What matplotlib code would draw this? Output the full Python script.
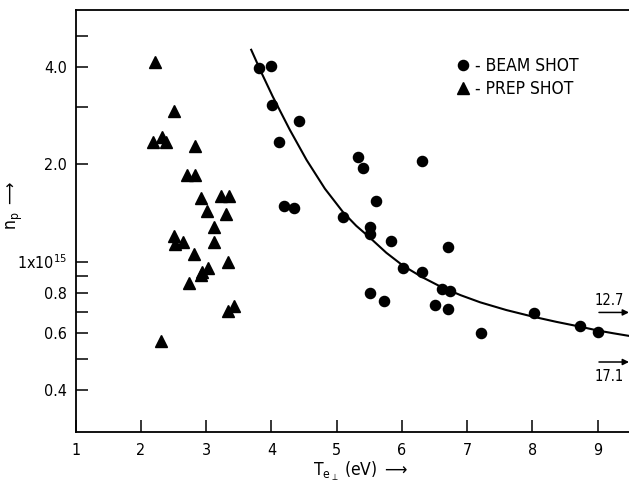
import numpy as np
import matplotlib
matplotlib.use('Agg')
import matplotlib.pyplot as plt
from matplotlib.lines import Line2D
from matplotlib.ticker import NullLocator, FixedLocator, FixedFormatter
from matplotlib import font_manager

# prefer a narrow sans if one is installed, else DejaVu
names = {f.name for f in font_manager.fontManager.ttflist}
narrow = [n for n in ['Liberation Sans Narrow', 'DejaVu Sans Condensed'] if n in names]
plt.rcParams['font.family'] = narrow + ['DejaVu Sans']
plt.rcParams['font.stretch'] = 'condensed'
plt.rcParams['mathtext.fontset'] = 'dejavusans'

# beam shots (circles)
beam_T = [3.81, 4.00, 4.01, 4.42, 4.12, 4.20, 4.35, 5.32, 5.41, 6.30, 5.10, 5.51, 5.51, 5.61,
          5.83, 6.70, 6.02, 6.30, 6.61, 6.74, 5.51, 5.72, 6.51, 6.71, 7.21, 8.02, 8.73, 9.00]
beam_n = [3.98, 4.04, 3.04, 2.73, 2.34, 1.49, 1.46, 2.11, 1.95, 2.05, 1.37, 1.28, 1.22, 1.54,
          1.16, 1.11, 0.954, 0.927, 0.823, 0.813, 0.80, 0.757, 0.735, 0.712, 0.603, 0.692, 0.633, 0.605]

# prep shots (triangles)
prep_T = [2.21, 2.51, 2.19, 2.32, 2.39, 2.83, 2.70, 2.83, 2.92, 3.22, 3.35, 3.01, 3.31, 3.12,
          2.51, 2.52, 2.65, 3.12, 2.81, 3.33, 2.93, 3.03, 2.92, 2.74, 3.33, 3.43, 2.31]
prep_n = [4.13, 2.93, 2.35, 2.42, 2.34, 2.28, 1.85, 1.85, 1.57, 1.59, 1.60, 1.43, 1.40, 1.28,
          1.20, 1.13, 1.15, 1.15, 1.056, 1.00, 0.93, 0.954, 0.91, 0.857, 0.705, 0.731, 0.566]

# fitted curve
fit_T = [3.69, 3.855, 4.02, 4.28, 4.54, 4.82, 5.10, 5.30, 5.50, 5.76, 6.02, 6.31, 6.60,
         6.90, 7.20, 7.60, 8.00, 8.365, 8.73, 9.00, 9.24, 9.48]
fit_n = [4.52, 3.81, 3.24, 2.56, 2.06, 1.68, 1.42, 1.29, 1.19, 1.065, 0.97, 0.895, 0.835,
         0.787, 0.748, 0.708, 0.676, 0.651, 0.629, 0.612, 0.600, 0.589]

# off-scale beam shots (shown as arrows)
off_T = ['12.7', '17.1']
off_n = [0.696, 0.489]

y_ticks = [0.4, 0.5, 0.6, 0.7, 0.8, 0.9, 1.0, 2.0, 3.0, 4.0, 5.0]
y_labels = ['0.4', '', '0.6', '', '0.8', '', r'1x10$^{15}$', '2.0', '', '4.0', '']
x_ticks = [1, 2, 3, 4, 5, 6, 7, 8, 9]

fig = plt.figure(figsize=(6.29, 4.86), dpi=100)
ax = fig.add_axes([0.1203, 0.1111, 0.8797, 0.8683])

ax.plot(fit_T, fit_n, color='black', lw=1.5, zorder=2)
ax.plot(beam_T, beam_n, 'o', color='black', ms=7.3, zorder=3)
ax.plot(prep_T, prep_n, '^', color='black', ms=8, zorder=3)

ax.set_yscale('log')
ax.set_xlim(1, 9.48)
ax.set_ylim(0.297, 6.0)

ax.yaxis.set_major_locator(FixedLocator(y_ticks))
ax.yaxis.set_major_formatter(FixedFormatter(y_labels))
ax.yaxis.set_minor_locator(NullLocator())
ax.set_xticks(x_ticks)
ax.set_xticklabels([str(t) for t in x_ticks])

ax.tick_params(direction='in', length=8.5, width=1.1, labelsize=11.5)
ax.tick_params(axis='y', pad=6)
ax.tick_params(axis='x', pad=8)

ax.spines['right'].set_visible(False)
for s in ['left', 'bottom', 'top']:
    ax.spines[s].set_linewidth(1.3)

# arrows for off-scale points
xr = ax.get_xlim()[1]
for lab, n, dy in zip(off_T, off_n, [1.09, 0.90]):
    ax.annotate('', xy=(xr, n), xytext=(xr - 0.46, n),
                arrowprops=dict(arrowstyle='-|>', lw=1.1, color='black', mutation_scale=9,
                                shrinkA=0, shrinkB=0),
                annotation_clip=False)
    ax.text(xr - 0.31, n * dy, lab, ha='center', va='center', fontsize=10.5)

handles = [Line2D([], [], ls='none', marker='o', color='black', ms=7.3),
           Line2D([], [], ls='none', marker='^', color='black', ms=8)]
ax.legend(handles, ['- BEAM SHOT', '- PREP SHOT'], loc='upper left',
          bbox_to_anchor=(458 / 629, 1 - 57 / 486), bbox_transform=fig.transFigure,
          frameon=False, handlelength=0.6, handletextpad=0.4, labelspacing=0.3,
          borderpad=0, borderaxespad=0, fontsize=12.5)

fig.text(15 / 629, 1 - 205 / 486, r'$\mathregular{n_p}$ $\longrightarrow$', rotation=90,
         ha='center', va='center', fontsize=12.5)
fig.text(361 / 629, 1 - 471 / 486, r'$\mathregular{T_{e_\perp}}$ (eV) $\longrightarrow$',
         ha='center', va='center', fontsize=12.5)

fig.savefig('out.png', dpi=100)
